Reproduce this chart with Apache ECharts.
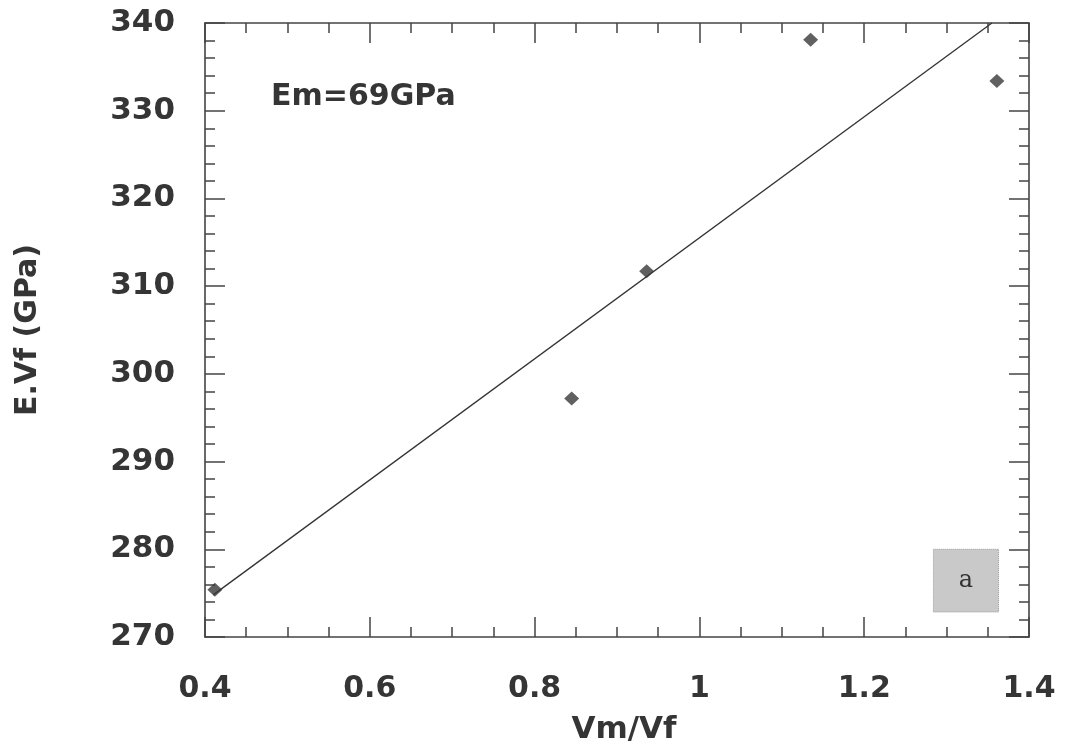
<!DOCTYPE html>
<html>
<head>
<meta charset="utf-8">
<script src="https://cdn.jsdelivr.net/npm/echarts@6/dist/echarts.min.js"></script>
<style>html,body{margin:0;padding:0;background:#fff}#c{width:1066px;height:750px}</style>
</head>
<body>
<div id="c"></div>
<script>
// Data
const vmVf = [0.412, 0.845, 0.936, 1.135, 1.361];
const eVf = [275.4, 297.2, 311.7, 338.1, 333.4];
const fitX = [0.41, 1.355];
const fitY = [274.8, 340.0];
const xTicks = [0.4, 0.6, 0.8, 1.0, 1.2, 1.4];
const yTicks = [270, 280, 290, 300, 310, 320, 330, 340];
const boxX = [1.284, 1.363];
const boxY = [272.85, 280.0];
const annotation = 'Em=69GPa';
const panelLabel = 'a';

const FONT = 'DejaVu Sans';
const ink = '#353535';

const chart = echarts.init(document.getElementById('c'), null, {renderer: 'canvas'});

const baseX = {
  type: 'value', min: xTicks[0], max: xTicks[xTicks.length - 1], interval: 0.2,
  axisLine: {show: true, onZero: false, lineStyle: {color: '#444', width: 1.6}},
  axisTick: {show: true, inside: true, length: 20, lineStyle: {color: '#444', width: 1.5}},
  minorTick: {show: true, splitNumber: 4, length: 10, lineStyle: {color: '#444', width: 1.5}},
  splitLine: {show: false}, minorSplitLine: {show: false}
};
const baseY = {
  type: 'value', min: yTicks[0], max: yTicks[yTicks.length - 1], interval: 10,
  axisLine: {show: true, onZero: false, lineStyle: {color: '#444', width: 1.6}},
  axisTick: {show: true, inside: true, length: 20, lineStyle: {color: '#444', width: 1.5}},
  minorTick: {show: true, splitNumber: 5, length: 10, lineStyle: {color: '#444', width: 1.5}},
  splitLine: {show: false}, minorSplitLine: {show: false}
};

chart.setOption({
  animation: false,
  backgroundColor: '#fff',
  grid: {left: 205, right: 37, top: 23, bottom: 113, containLabel: false},
  xAxis: [
    Object.assign({}, baseX, {
      position: 'bottom',
      name: 'Vm/Vf', nameLocation: 'middle', nameGap: 77,
      nameTextStyle: {fontFamily: FONT, fontWeight: 'bold', fontSize: 31, color: ink, padding: [0, 0, 0, 14]},
      axisLabel: {
        show: true, margin: 37, fontFamily: FONT, fontWeight: 'bold', fontSize: 30, color: ink,
        formatter: v => (Math.abs(v - 1) < 1e-9 ? '1' : v.toFixed(1))
      }
    }),
    Object.assign({}, baseX, {position: 'top', axisLabel: {show: false}})
  ],
  yAxis: [
    Object.assign({}, baseY, {
      position: 'left',
      name: 'E.Vf (GPa)', nameLocation: 'middle', nameGap: 162, nameRotate: 90,
      nameTextStyle: {fontFamily: FONT, fontWeight: 'bold', fontSize: 30, color: ink},
      axisLabel: {show: true, margin: 30, fontFamily: FONT, fontWeight: 'bold', fontSize: 31, color: ink}
    }),
    Object.assign({}, baseY, {position: 'right', axisLabel: {show: false}})
  ],
  series: [
    {
      type: 'line', xAxisIndex: 0, yAxisIndex: 0,
      data: fitX.map((x, i) => [x, fitY[i]]),
      showSymbol: false, symbol: 'none',
      lineStyle: {color: '#333', width: 1.3},
      silent: true, z: 2,
      markArea: {
        silent: true,
        itemStyle: {color: '#c9c9c9', borderColor: '#999', borderWidth: 1, borderType: 'dotted'},
        label: {show: true, position: 'inside', fontFamily: 'DejaVu Serif', fontSize: 24, color: '#333'},
        data: [[{name: panelLabel, xAxis: boxX[0], yAxis: boxY[0]}, {xAxis: boxX[1], yAxis: boxY[1]}]]
      }
    },
    {
      type: 'scatter', xAxisIndex: 0, yAxisIndex: 0,
      data: vmVf.map((x, i) => [x, eVf[i]]),
      symbol: 'diamond', symbolSize: [15, 14],
      itemStyle: {color: '#383838'}, z: 3
    }
  ],
  graphic: [
    {type: 'text', left: 271, top: 82,
     style: {text: annotation, fontFamily: FONT, fontWeight: 'bold', fontSize: 30, fill: ink}}
  ]
});
</script>
</body>
</html>
